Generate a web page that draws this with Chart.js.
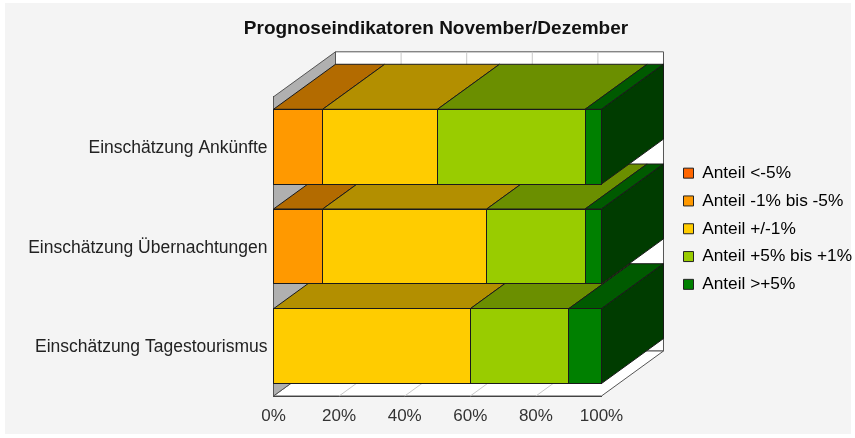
<!DOCTYPE html>
<html><head><meta charset="utf-8">
<style>html,body{margin:0;padding:0;background:#fff}#w{width:855px;height:438px}canvas{display:block}</style>
<script src="https://cdn.jsdelivr.net/npm/chart.js@4"></script></head>
<body><div id="w"><canvas id="c" width="855" height="438"></canvas></div>
<script>
const titleText='Prognoseindikatoren November/Dezember';
const categories=['Einschätzung Ankünfte','Einschätzung Übernachtungen','Einschätzung Tagestourismus'];
const seriesNames=['Anteil <-5%','Anteil -1% bis -5%','Anteil +/-1%','Anteil +5% bis +1%','Anteil >+5%'];
const lessThanMinus5=[0,0,0];
const minus1ToMinus5=[15,15,0];
const plusMinus1=[35,50,60];
const plus1ToPlus5=[45,30,30];
const morePlus5=[5,5,10];
const xTicks=[0,20,40,60,80,100];
const frontColors=['#FF6600','#FF9900','#FFCC00','#99CC00','#008000'];
const topColors=['#B34700','#B36B00','#B38F00','#6B8F00','#005A00'];
const sideColors=['#803300','#804C00','#806600','#4C6600','#003C00'];
const seriesValues=[lessThanMinus5,minus1ToMinus5,plusMinus1,plus1ToPlus5,morePlus5];
const DX=62,DY=45;
function poly(ctx,pts,fill,stroke,lw){
  ctx.beginPath();pts.forEach((p,i)=>i?ctx.lineTo(p[0],p[1]):ctx.moveTo(p[0],p[1]));ctx.closePath();
  if(fill){ctx.fillStyle=fill;ctx.fill();}
  if(stroke){ctx.strokeStyle=stroke;ctx.lineWidth=lw||1;ctx.stroke();}
}
const crisp=v=>Math.floor(v)+0.5;
const scene={id:'scene',
  beforeDraw(ch){const c=ch.ctx;c.save();c.fillStyle='#fff';c.fillRect(0,0,855,438);c.fillStyle='#F4F4F4';c.fillRect(5,3,846,431);c.restore();},
  afterLayout(ch){const l=ch.legend;l.top=154;l.bottom=438;l.left=673;l.right=855;
    const t=ch.titleBlock;t.left=20;t.right=852;},
  beforeDatasetsDraw(ch){
    const c=ch.ctx,x=ch.scales.x,a=ch.chartArea,L=x.getPixelForValue(0),R=x.getPixelForValue(100),T=a.top,B=a.bottom;
    c.save();
    poly(c,[[L+DX,T-DY],[R+DX,T-DY],[R+DX,B-DY],[L+DX,B-DY]],'#fff','#555');
    poly(c,[[L,B],[R,B],[R+DX,B-DY],[L+DX,B-DY]],'#fff','#555');
    poly(c,[[L,T],[L+DX,T-DY],[L+DX,B-DY],[L,B]],'#B0B0B0','#555');
    xTicks.slice(1,-1).forEach(t=>{const p=x.getPixelForValue(t);
      c.strokeStyle='#C8C8C8';c.lineWidth=1;c.beginPath();c.moveTo(p,B);c.lineTo(p+DX,B-DY);c.lineTo(p+DX,T-DY);c.stroke();});
    for(let r=categories.length-1;r>=0;r--){
      let last=-1;
      seriesValues.forEach((s,d)=>{
        if(!s[r])return;last=d;
        const e=ch.getDatasetMeta(d).data[r],x0=e.base,x1=e.x,y0=e.y-e.height/2;
        poly(c,[[x0,y0],[x1,y0],[x1+DX,y0-DY],[x0+DX,y0-DY]],topColors[d],'#1a1a1a');
      });
      const e=ch.getDatasetMeta(last).data[r],xr=e.x,y0=e.y-e.height/2,y1=e.y+e.height/2;
      poly(c,[[xr,y0],[xr+DX,y0-DY],[xr+DX,y1-DY],[xr,y1]],sideColors[last],'#1a1a1a');
    }
    c.restore();
  },
  afterDatasetsDraw(ch){
    const c=ch.ctx;c.save();c.strokeStyle='#1a1a1a';c.lineWidth=1;
    seriesValues.forEach((s,d)=>{s.forEach((v,r)=>{if(!v)return;
      const e=ch.getDatasetMeta(d).data[r];
      const x0=crisp(e.base),x1=crisp(e.x),y0=crisp(e.y-e.height/2),y1=crisp(e.y+e.height/2);
      c.strokeRect(x0,y0,x1-x0,y1-y0);
    });});
    c.restore();
  }
};
new Chart(document.getElementById('c'),{
  type:'bar',
  data:{labels:categories,datasets:seriesNames.map((n,i)=>({label:n,data:seriesValues[i],backgroundColor:frontColors[i],borderWidth:0,barPercentage:0.75,categoryPercentage:1,stack:'s'}))},
  options:{
    indexAxis:'y',responsive:false,animation:false,
    layout:{padding:{top:0,left:0,right:64.5,bottom:0}},
    scales:{
      x:{stacked:true,min:0,max:100,afterBuildTicks(s){s.ticks=xTicks.map(v=>({value:v}));},
        afterFit(s){s.height=42;},
        grid:{display:false,drawTicks:true,tickLength:5,tickColor:'#333'},border:{color:'#333'},
        ticks:{maxRotation:0,color:'#333',padding:5,font:{family:'Liberation Sans',size:17},callback:v=>v+'%'}},
      y:{stacked:true,afterFit(s){s.width=273.5;},
        grid:{display:false,drawTicks:false},border:{color:'#333'},
        ticks:{color:'#222',padding:6,labelOffset:1.5,font:{family:'Liberation Sans',size:17.5}}}
    },
    plugins:{
      title:{display:true,text:titleText,color:'#111',font:{family:'Liberation Sans',size:19,weight:'bold'},padding:{top:17,bottom:57}},
      legend:{position:'right',align:'start',labels:{boxWidth:10,boxHeight:10,padding:10.5,color:'#222',font:{family:'Liberation Sans',size:17.3},
        generateLabels(ch){return ch.data.datasets.map((d,i)=>({text:d.label,fillStyle:d.backgroundColor,strokeStyle:'#222',lineWidth:1,datasetIndex:i}));}}},
      tooltip:{enabled:false}
    }
  },
  plugins:[scene]
});
</script></body></html>
